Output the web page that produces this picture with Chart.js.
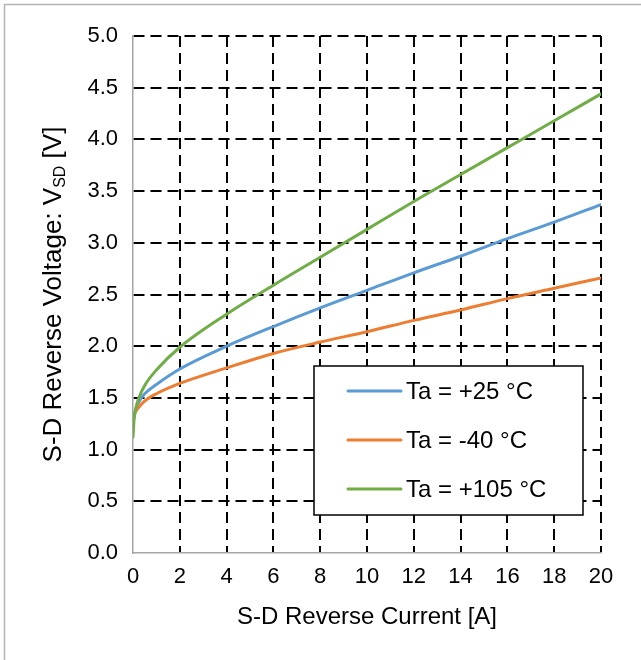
<!DOCTYPE html>
<html>
<head>
<meta charset="utf-8">
<script src="https://cdn.jsdelivr.net/npm/chart.js@4/dist/chart.umd.min.js"></script>
<style>
  html, body { margin: 0; padding: 0; background: #ffffff; }
  canvas { display: block; }
</style>
</head>
<body>
<canvas id="vsd" width="641" height="660"></canvas>
<script>
// Reverse current sample points [A]
const current = [0, 0.05, 0.1, 0.25, 0.5, 1, 2, 4, 6, 8, 10, 12, 14, 16, 18, 20];

// Source-drain reverse voltage [V] at each ambient temperature
const vsd25  = [1.25, 1.33, 1.38, 1.46, 1.54, 1.63, 1.78, 2.00, 2.19, 2.37, 2.54, 2.71, 2.87, 3.04, 3.20, 3.37];
const vsdM40 = [1.28, 1.33, 1.36, 1.41, 1.47, 1.54, 1.64, 1.79, 1.93, 2.04, 2.14, 2.25, 2.35, 2.46, 2.56, 2.66];
const vsd105 = [1.12, 1.30, 1.38, 1.50, 1.62, 1.77, 1.99, 2.31, 2.59, 2.86, 3.13, 3.40, 3.66, 3.92, 4.18, 4.44];

const seriesLabels = ['Ta = +25 °C', 'Ta = -40 °C', 'Ta = +105 °C'];
const seriesColors = ['#5B9BD5', '#ED7D31', '#70AD47'];

const xTicks = [0, 2, 4, 6, 8, 10, 12, 14, 16, 18, 20];
const yTicks = [0, 0.5, 1, 1.5, 2, 2.5, 3, 3.5, 4, 4.5, 5];

const FONT = '"Liberation Sans", Arial, sans-serif';

function pairs(xs, ys) {
  return xs.map((x, i) => ({ x: x, y: ys[i] }));
}

// Thin grey frame around the whole figure
const framePlugin = {
  id: 'frame',
  beforeDraw(chart) {
    const ctx = chart.ctx;
    ctx.save();
    ctx.fillStyle = '#ffffff';
    ctx.fillRect(0, 0, chart.width, chart.height);
    ctx.strokeStyle = '#b4b4b4';
    ctx.lineWidth = 1.5;
    ctx.beginPath();
    ctx.moveTo(4.5, chart.height + 2);
    ctx.lineTo(4.5, 4.5);
    ctx.lineTo(chart.width + 2, 4.5);
    ctx.stroke();
    ctx.restore();
  }
};

// Vertical axis title with the "SD" subscript
const yTitlePlugin = {
  id: 'yTitle',
  afterDraw(chart) {
    const ctx = chart.ctx;
    const area = chart.chartArea;
    const main = 26, sub = 16;
    const partA = 'S-D Reverse Voltage: V';
    const partB = 'SD';
    const partC = ' [V]';
    ctx.save();
    ctx.fillStyle = '#000000';
    ctx.textBaseline = 'alphabetic';
    ctx.textAlign = 'left';
    ctx.font = main + 'px ' + FONT;
    const wA = ctx.measureText(partA).width;
    const wC = ctx.measureText(partC).width;
    ctx.font = sub + 'px ' + FONT;
    const wB = ctx.measureText(partB).width;
    const total = wA + wB + wC;
    ctx.translate(61, (area.top + area.bottom) / 2);
    ctx.rotate(-Math.PI / 2);
    let x = -total / 2;
    ctx.font = main + 'px ' + FONT;
    ctx.fillText(partA, x, 0);
    x += wA;
    ctx.font = sub + 'px ' + FONT;
    ctx.fillText(partB, x, 4);
    x += wB;
    ctx.font = main + 'px ' + FONT;
    ctx.fillText(partC, x, 0);
    ctx.restore();
  }
};

// Boxed legend inside the plot area
const boxLegendPlugin = {
  id: 'boxLegend',
  afterDraw(chart) {
    const ctx = chart.ctx;
    const area = chart.chartArea;
    const left = area.left + 181, top = area.top + 330;
    const w = 269, h = 149;
    ctx.save();
    ctx.fillStyle = '#ffffff';
    ctx.fillRect(left, top, w, h);
    ctx.strokeStyle = '#000000';
    ctx.lineWidth = 1.5;
    ctx.strokeRect(left, top, w, h);
    ctx.font = '24px ' + FONT;
    ctx.textBaseline = 'middle';
    ctx.textAlign = 'left';
    chart.data.datasets.forEach((ds, i) => {
      const y = top + 25 + i * 49;
      ctx.strokeStyle = ds.borderColor;
      ctx.lineWidth = 3;
      ctx.lineCap = 'round';
      ctx.beginPath();
      ctx.moveTo(left + 34, y);
      ctx.lineTo(left + 87, y);
      ctx.stroke();
      ctx.fillStyle = '#000000';
      ctx.fillText(ds.label, left + 92, y + 1);
    });
    ctx.restore();
  }
};

const gridColor = (ctx) => (ctx.tick && ctx.tick.value === 0) ? 'rgba(0,0,0,0)' : '#000000';

new Chart(document.getElementById('vsd'), {
  type: 'line',
  data: {
    datasets: [
      { label: seriesLabels[0], data: pairs(current, vsd25),  borderColor: seriesColors[0], order: 2 },
      { label: seriesLabels[1], data: pairs(current, vsdM40), borderColor: seriesColors[1], order: 1 },
      { label: seriesLabels[2], data: pairs(current, vsd105), borderColor: seriesColors[2], order: 0 }
    ]
  },
  options: {
    responsive: false,
    animation: false,
    layout: { padding: { left: 0, right: 40, top: 36, bottom: 0 } },
    elements: {
      line: { borderWidth: 3, cubicInterpolationMode: 'monotone', fill: false, borderCapStyle: 'round' },
      point: { radius: 0, hoverRadius: 0 }
    },
    plugins: {
      legend: { display: false },
      tooltip: { enabled: false }
    },
    scales: {
      x: {
        type: 'linear',
        min: 0, max: 20,
        afterBuildTicks: (scale) => { scale.ticks = xTicks.map(v => ({ value: v })); },
        afterFit: (scale) => { scale.height = 107; },
        ticks: {
          color: '#000000',
          font: { family: FONT, size: 22 },
          padding: 11,
          maxRotation: 0,
          callback: (v) => String(v)
        },
        grid: { color: gridColor, lineWidth: 2, drawTicks: false },
        border: { display: true, color: '#a6a6a6', width: 1.5, dash: [11, 6] },
        title: {
          display: true,
          text: 'S-D Reverse Current [A]',
          color: '#000000',
          font: { family: FONT, size: 24 },
          padding: { top: 0, bottom: 28 }
        }
      },
      y: {
        type: 'linear',
        min: 0, max: 5,
        afterBuildTicks: (scale) => { scale.ticks = yTicks.map(v => ({ value: v })); },
        afterFit: (scale) => { scale.width = 133; },
        ticks: {
          color: '#000000',
          font: { family: FONT, size: 22 },
          padding: 15,
          callback: (v) => Number(v).toFixed(1)
        },
        grid: { color: gridColor, lineWidth: 2, drawTicks: false },
        border: { display: true, color: '#a6a6a6', width: 1.5, dash: [11, 6] }
      }
    }
  },
  plugins: [framePlugin, yTitlePlugin, boxLegendPlugin]
});
</script>
</body>
</html>
